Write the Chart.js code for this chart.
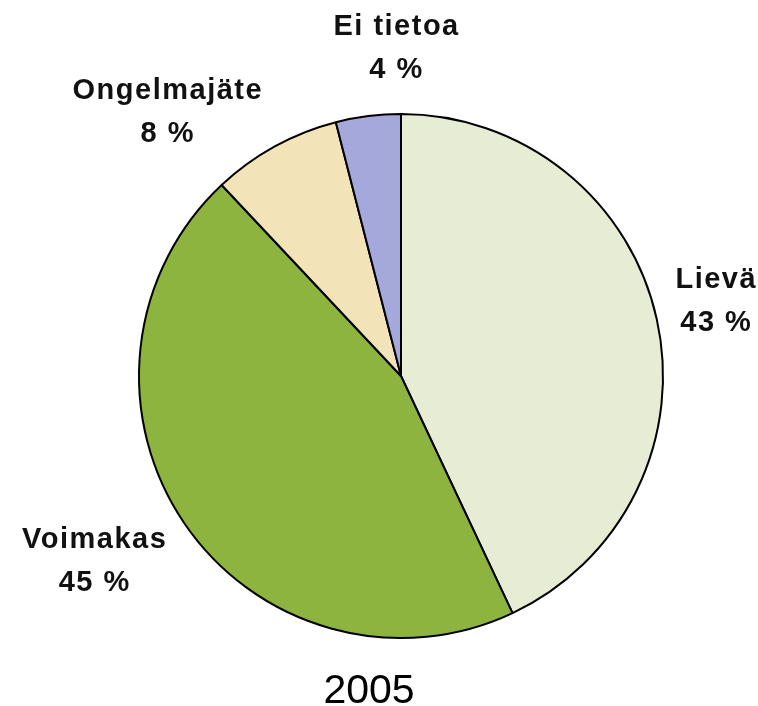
<!DOCTYPE html>
<html>
<head>
<meta charset="utf-8">
<script src="https://cdn.jsdelivr.net/npm/chart.js@4"></script>
<style>
	html, body { margin: 0; padding: 0; background: #fff; }
	#wrap { width: 758px; height: 706px; }
</style>
</head>
<body>
<div id="wrap"><canvas id="chart"></canvas></div>
<script>

// data
//
const categories = ['Lievä', 'Voimakas', 'Ongelmajäte', 'Ei tietoa'];
const shares = [43, 45, 8, 4];
const colors = ['#E7ECD5', '#8DB43E', '#F3E3B9', '#A4A8DA'];
const year = '2005';

// small hand nudges for the label boxes, as Excel placed them
//
const labelNudge = [[-6, -3], [-5, -19], [-58, 55], [37, 0]];

// draws the "name / nn %" labels just outside each slice
//
const outsideLabels = {
	id: 'outsideLabels',
	afterDatasetsDraw: function(chart) {
		let ctx = chart.ctx;
		let arcs = chart.getDatasetMeta(0).data;
		let lineHeight = 43;
		ctx.save();
		ctx.font = 'bold 29px "Liberation Sans", Arial, sans-serif';
		ctx.letterSpacing = '1.5px';
		ctx.fillStyle = '#111';
		ctx.textAlign = 'center';
		ctx.textBaseline = 'middle';
		arcs.forEach(function(arc, i) {
			let p = arc.getProps(['x', 'y', 'startAngle', 'endAngle', 'outerRadius'], true);
			let mid = (p.startAngle + p.endAngle) / 2;
			let ux = Math.cos(mid);
			let uy = Math.sin(mid);
			let lines = [categories[i], shares[i] + ' %'];
			let w = Math.max.apply(null, lines.map(function(t) { return ctx.measureText(t).width; }));
			let h = lines.length * lineHeight;
			let r = p.outerRadius + 18 + Math.abs(ux) * w / 2 + Math.abs(uy) * h / 2;
			let cx = p.x + ux * r + labelNudge[i][0];
			let cy = p.y + uy * r + labelNudge[i][1];
			lines.forEach(function(t, j) {
				ctx.fillText(t, cx, cy + (j - (lines.length - 1) / 2) * lineHeight);
			});
		});
		ctx.restore();
	}
};

// draws the year under the pie
//
const yearTitle = {
	id: 'yearTitle',
	afterDraw: function(chart) {
		let ctx = chart.ctx;
		ctx.save();
		ctx.font = '41px "Liberation Sans", Arial, sans-serif';
		ctx.fillStyle = '#000';
		ctx.textAlign = 'center';
		ctx.textBaseline = 'alphabetic';
		ctx.fillText(year, chart.width / 2 - 10, chart.height - 3);
		ctx.restore();
	}
};

new Chart(document.getElementById('chart'), {
	type: 'pie',
	data: {
		labels: categories,
		datasets: [{
			data: shares,
			backgroundColor: colors,
			borderColor: '#000',
			borderWidth: 2
		}]
	},
	options: {
		responsive: true,
		maintainAspectRatio: false,
		animation: false,
		events: [],
		layout: {
			padding: { top: 113, bottom: 67, left: 138, right: 94 }
		},
		plugins: {
			legend: { display: false },
			tooltip: { enabled: false },
			title: { display: false }
		}
	},
	plugins: [outsideLabels, yearTitle]
});
</script>
</body>
</html>
